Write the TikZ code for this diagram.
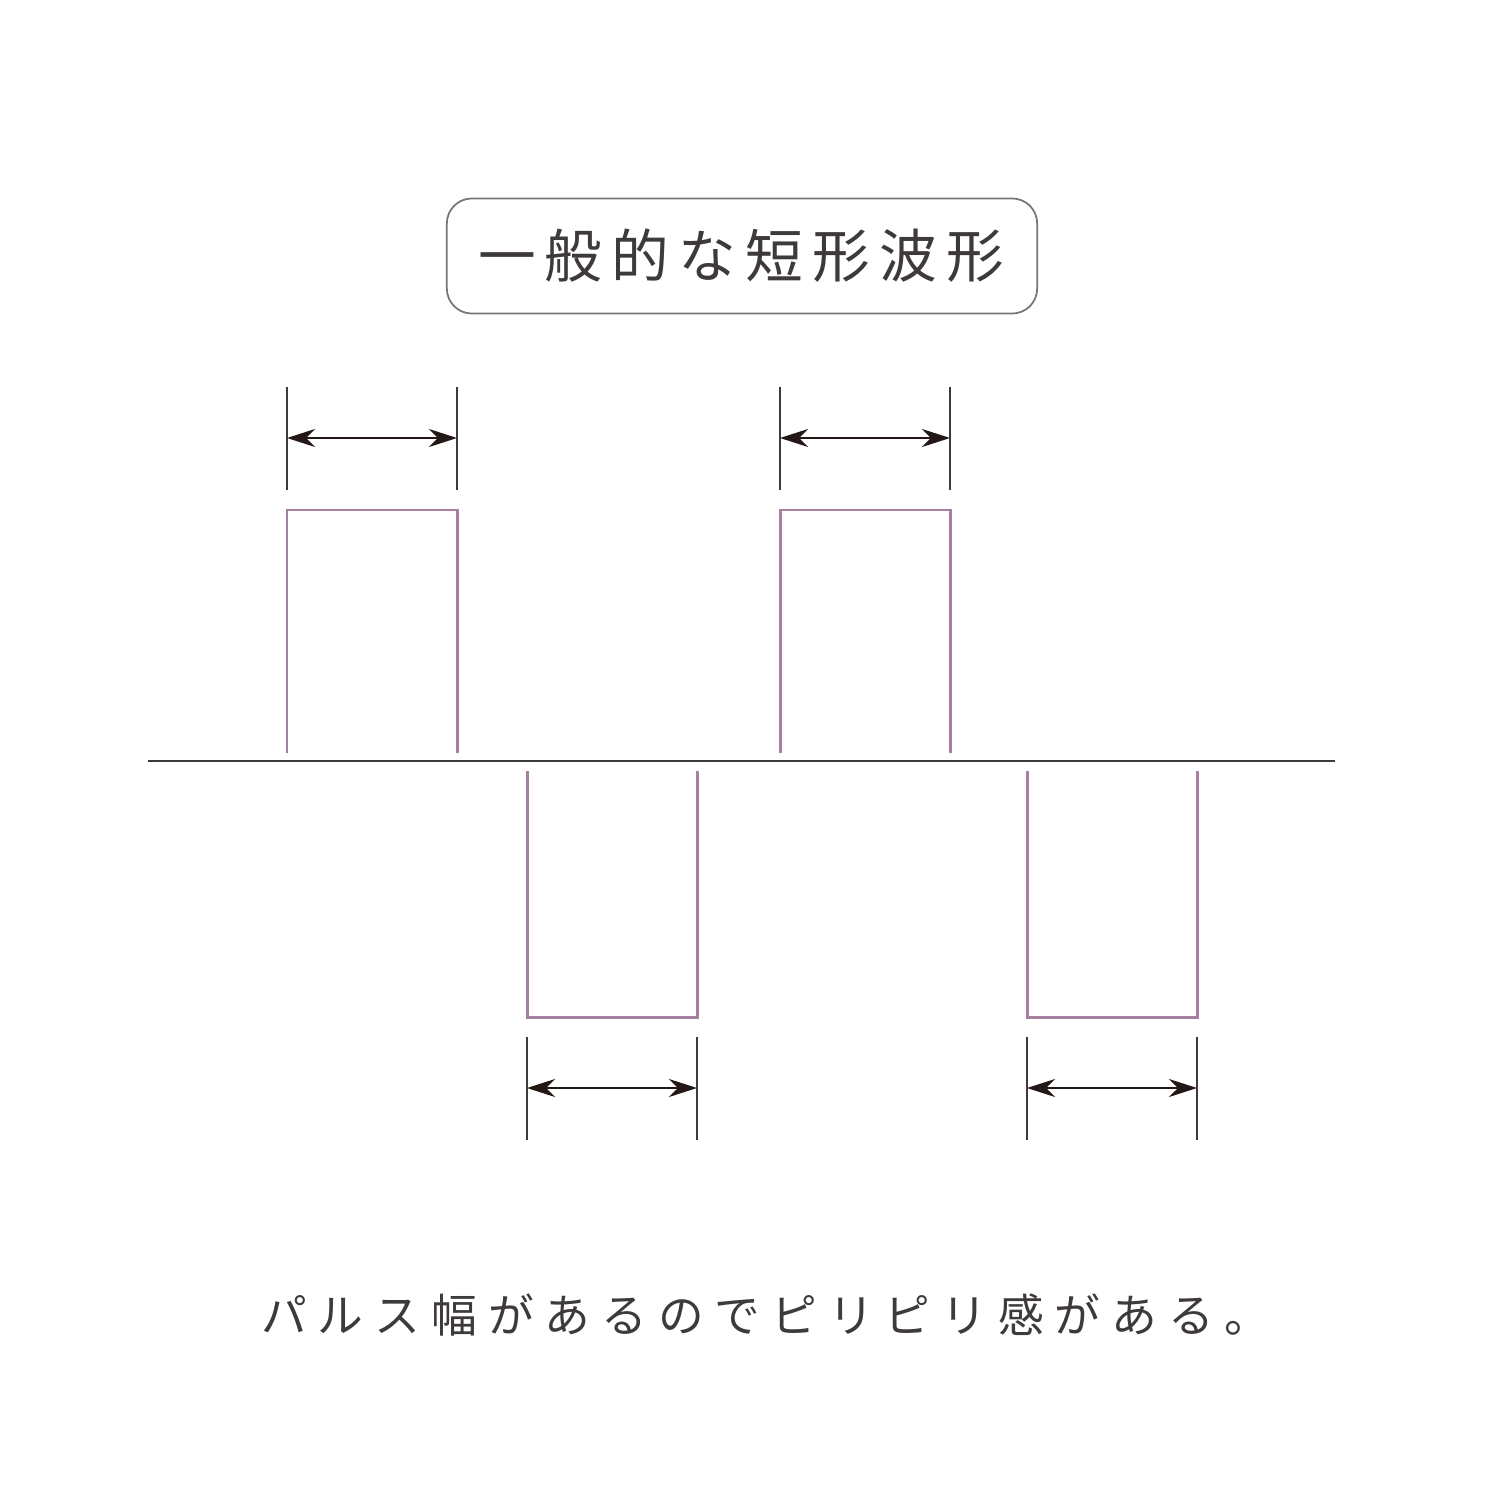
\documentclass[tikz,border=0pt]{standalone}
\usepackage{fontspec}
\setmainfont{Noto Sans CJK JP}
\newfontfamily\jpfont[LetterSpace=16]{Noto Sans CJK JP}
\newfontfamily\jpfontb[LetterSpace=24]{Noto Sans CJK JP}
\usetikzlibrary{arrows.meta}
\definecolor{pulsecol}{HTML}{A8809F}
\definecolor{inkcol}{HTML}{3E3A39}
\definecolor{tipcol}{HTML}{231815}

\begin{document}
\begin{tikzpicture}[x=0.01cm, y=-0.01cm]
            \tikzstyle{pulse}=[draw=pulsecol, line width=0.85pt]
            \tikzstyle{tick}=[draw=inkcol, line width=0.35pt]
            \tikzstyle{span}=[draw=tipcol, line width=0.5pt, {Stealth[length=2.8mm, width=1.8mm, inset=0.9mm]}-{Stealth[length=2.8mm, width=1.8mm, inset=0.9mm]}]
            \useasboundingbox (0,0) rectangle (1500,1500);
            % title
            \node [draw=inkcol!70, line width=0.5pt, rounded corners=2.5mm, minimum width=5.9cm, minimum height=1.15cm, inner sep=0pt] (title) at (742,256) {};
            \node [text=inkcol, font=\jpfont\fontsize{16.4pt}{19pt}\selectfont] (tlabel) at (741,256) {一般的な短形波形};
            % axis
            \coordinate (a0) at (148,761);
            \coordinate (a1) at (1335,761);
            \draw [draw=inkcol, line width=0.55pt] (a0) -- (a1);
            % pulses above
            \foreach \x/\n in {287/p, 780/q} {
                \draw [pulse] (\x,753) -- (\x,510) -- (\x+170,510) -- (\x+170,753);
                \coordinate (\n l) at (\x,438);
                \coordinate (\n r) at (\x+170,438);
                \draw [tick] (\x,387) -- (\x,490);
                \draw [tick] (\x+170,387) -- (\x+170,490);
                \draw [span] (\n l) -- (\n r);
            }
            % pulses below
            \foreach \x/\n in {527/r, 1027/s} {
                \draw [pulse] (\x,771) -- (\x,1017) -- (\x+170,1017) -- (\x+170,771);
                \coordinate (\n l) at (\x,1088);
                \coordinate (\n r) at (\x+170,1088);
                \draw [tick] (\x,1037) -- (\x,1140);
                \draw [tick] (\x+170,1037) -- (\x+170,1140);
                \draw [span] (\n l) -- (\n r);
            }
            % caption
            \node [text=inkcol, font=\jpfontb\fontsize{13pt}{15pt}\selectfont] (caption) at (766,1315) {パルス幅があるのでピリピリ感がある。};
        \end{tikzpicture}
\end{document}
